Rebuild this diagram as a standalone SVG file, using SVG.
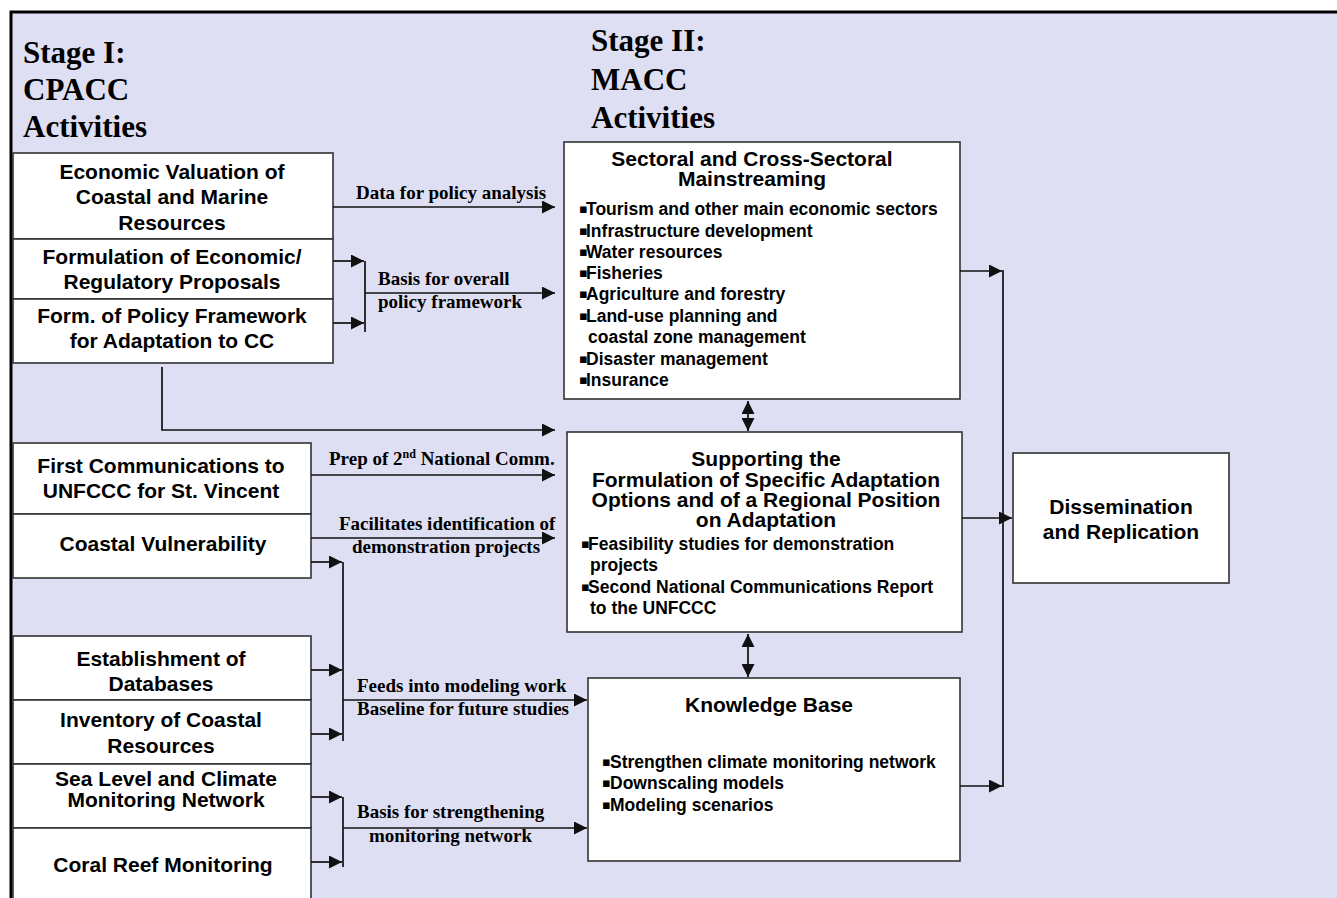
<svg xmlns="http://www.w3.org/2000/svg" width="1337" height="898" viewBox="0 0 1337 898">
<defs>
<marker id="ah" markerUnits="userSpaceOnUse" markerWidth="14" markerHeight="13" refX="13" refY="6.5" orient="auto-start-reverse">
<path d="M0,0 L13,6.5 L0,13 z" fill="#111"/>
</marker>
<style>
.box{fill:#fff;stroke:#333;stroke-width:1.6}
.nt{font-family:"Liberation Sans",Arial,sans-serif;font-weight:bold;font-size:21px;fill:#000;text-anchor:middle}
.bl{font-family:"Liberation Sans",Arial,sans-serif;font-weight:bold;font-size:17.5px;fill:#000}
.bu{font-family:"DejaVu Sans",sans-serif;font-size:13px;fill:#000}
.st{font-family:"Liberation Serif","Times New Roman",serif;font-weight:bold;font-size:31px;fill:#000}
.lb{font-family:"Liberation Serif","Times New Roman",serif;font-weight:bold;font-size:19px;fill:#000}
.ln{fill:none;stroke:#111;stroke-width:1.7}
.ar{fill:none;stroke:#111;stroke-width:1.7;marker-end:url(#ah)}
.da{fill:none;stroke:#111;stroke-width:1.7;marker-start:url(#ah);marker-end:url(#ah)}
</style>
</defs>
<rect x="0" y="0" width="1337" height="898" fill="#fff"/>
<rect x="11" y="12" width="1340" height="900" fill="#DFDFF3" stroke="#000" stroke-width="3"/>

<g id="titles">
<text class="st" x="23" y="63">Stage I:</text>
<text class="st" x="23" y="100">CPACC</text>
<text class="st" x="23" y="137">Activities</text>
<text class="st" x="591" y="51">Stage II:</text>
<text class="st" x="591" y="90">MACC</text>
<text class="st" x="591" y="128">Activities</text>
</g>

<g id="n1"><rect class="box" x="13" y="153" width="320" height="86"/>
<text class="nt" x="172" y="179">Economic Valuation of</text>
<text class="nt" x="172" y="204">Coastal and Marine</text>
<text class="nt" x="172" y="230">Resources</text></g>
<g id="n2"><rect class="box" x="13" y="239" width="320" height="60"/>
<text class="nt" x="172" y="264">Formulation of Economic/</text>
<text class="nt" x="172" y="289">Regulatory Proposals</text></g>
<g id="n3"><rect class="box" x="13" y="299" width="320" height="64"/>
<text class="nt" x="172" y="323">Form. of Policy Framework</text>
<text class="nt" x="172" y="348">for Adaptation to CC</text></g>
<g id="n4"><rect class="box" x="13" y="443" width="298" height="71"/>
<text class="nt" x="161" y="473">First Communications to</text>
<text class="nt" x="161" y="498">UNFCCC for St. Vincent</text></g>
<g id="n5"><rect class="box" x="13" y="514" width="298" height="64"/>
<text class="nt" x="163" y="551">Coastal Vulnerability</text></g>
<g id="n6"><rect class="box" x="13" y="636" width="298" height="64"/>
<text class="nt" x="161" y="666">Establishment of</text>
<text class="nt" x="161" y="691">Databases</text></g>
<g id="n7"><rect class="box" x="13" y="700" width="298" height="64"/>
<text class="nt" x="161" y="727">Inventory of Coastal</text>
<text class="nt" x="161" y="753">Resources</text></g>
<g id="n8"><rect class="box" x="13" y="764" width="298" height="64"/>
<text class="nt" x="166" y="786">Sea Level and Climate</text>
<text class="nt" x="166" y="807">Monitoring Network</text></g>
<g id="n9"><rect class="box" x="13" y="828" width="298" height="90"/>
<text class="nt" x="163" y="872">Coral Reef Monitoring</text></g>

<g id="sectoral"><rect class="box" x="564" y="142" width="396" height="257"/>
<text class="nt" x="752" y="166">Sectoral and Cross-Sectoral</text>
<text class="nt" x="752" y="186">Mainstreaming</text>
<text class="bu" x="579" y="213">▪</text><text class="bl" x="586" y="215">Tourism and other main economic sectors</text>
<text class="bu" x="579" y="234.5">▪</text><text class="bl" x="586" y="236.5">Infrastructure development</text>
<text class="bu" x="579" y="256">▪</text><text class="bl" x="586" y="258">Water resources</text>
<text class="bu" x="579" y="277">▪</text><text class="bl" x="586" y="279">Fisheries</text>
<text class="bu" x="579" y="298">▪</text><text class="bl" x="586" y="300">Agriculture and forestry</text>
<text class="bu" x="579" y="319.5">▪</text><text class="bl" x="586" y="321.5">Land-use planning and</text>
<text class="bl" x="588" y="343">coastal zone management</text>
<text class="bu" x="579" y="362.5">▪</text><text class="bl" x="586" y="364.5">Disaster management</text>
<text class="bu" x="579" y="384">▪</text><text class="bl" x="586" y="386">Insurance</text></g>

<g id="supporting"><rect class="box" x="567" y="432" width="395" height="200"/>
<text class="nt" x="766" y="466">Supporting the</text>
<text class="nt" x="766" y="487">Formulation of Specific Adaptation</text>
<text class="nt" x="766" y="507">Options and of a Regional Position</text>
<text class="nt" x="766" y="527">on Adaptation</text>
<text class="bu" x="581" y="548">▪</text><text class="bl" x="588" y="550">Feasibility studies for demonstration</text>
<text class="bl" x="590" y="571">projects</text>
<text class="bu" x="581" y="591">▪</text><text class="bl" x="588" y="593">Second National Communications Report</text>
<text class="bl" x="590" y="614">to the UNFCCC</text></g>

<g id="knowledge"><rect class="box" x="588" y="678" width="372" height="183"/>
<text class="nt" x="769" y="712">Knowledge Base</text>
<text class="bu" x="602" y="766">▪</text><text class="bl" x="610" y="768">Strengthen climate monitoring network</text>
<text class="bu" x="602" y="787">▪</text><text class="bl" x="610" y="789">Downscaling models</text>
<text class="bu" x="602" y="809">▪</text><text class="bl" x="610" y="811">Modeling scenarios</text></g>

<g id="dissemination"><rect class="box" x="1013" y="453" width="216" height="130"/>
<text class="nt" x="1121" y="514">Dissemination</text>
<text class="nt" x="1121" y="539">and Replication</text></g>

<g id="connectors">
<path class="ar" d="M333,207 H555"/>
<path class="ar" d="M333,261 H364"/>
<path class="ar" d="M333,323 H364"/>
<path class="ln" d="M365,261 V332"/>
<path class="ar" d="M365,293 H555"/>
<path class="ar" d="M162,367 V430 H555"/>
<path class="ar" d="M311,475 H555"/>
<path class="ar" d="M311,538 H555"/>
<path class="ar" d="M311,562 H342"/>
<path class="ar" d="M311,670 H342"/>
<path class="ar" d="M311,734 H342"/>
<path class="ln" d="M343,562 V741"/>
<path class="ar" d="M343,700 H587"/>
<path class="ar" d="M311,797 H342"/>
<path class="ar" d="M311,862 H342"/>
<path class="ln" d="M343,797 V867"/>
<path class="ar" d="M343,828 H587"/>
<path class="da" d="M748,401 V431"/>
<path class="da" d="M748,634 V677"/>
<path class="ar" d="M960,271 H1002"/>
<path class="ar" d="M960,786 H1002"/>
<path class="ln" d="M1003,270 V787"/>
<path class="ar" d="M962,518 H1012"/>
</g>

<g id="labels">
<text class="lb" x="356" y="199">Data for policy analysis</text>
<text class="lb" x="378" y="285">Basis for overall</text>
<text class="lb" x="378" y="308">policy framework</text>
<text class="lb" x="329" y="465">Prep of 2<tspan font-size="12" dy="-7">nd</tspan><tspan dy="7"> National Comm.</tspan></text>
<text class="lb" x="339" y="530">Facilitates identification of</text>
<text class="lb" x="352" y="553">demonstration projects</text>
<text class="lb" x="357" y="692">Feeds into modeling work</text>
<text class="lb" x="357" y="715">Baseline for future studies</text>
<text class="lb" x="357" y="818">Basis for strengthening</text>
<text class="lb" x="369" y="842">monitoring network</text>
</g>
</svg>
